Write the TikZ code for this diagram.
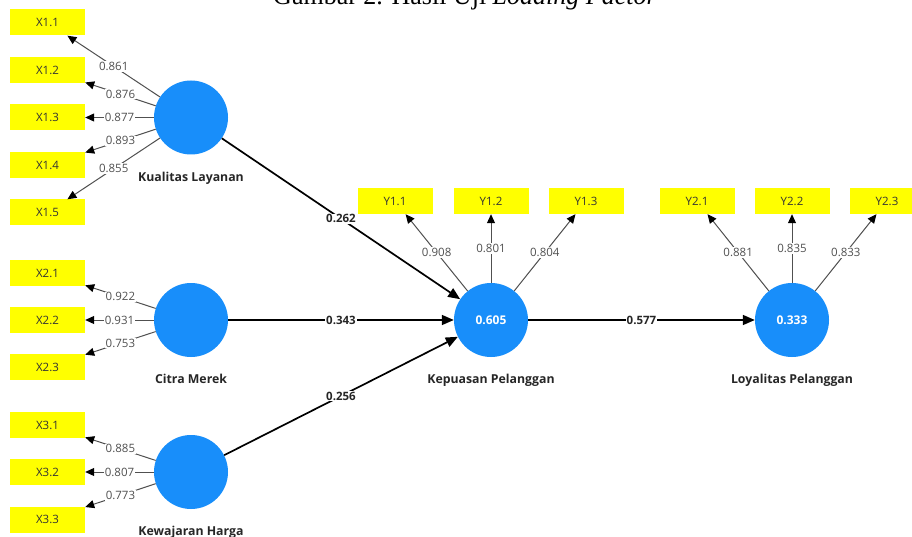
\documentclass[tikz,border=0pt]{standalone}
\usepackage{fontspec}
\setmainfont{Liberation Serif}
\setsansfont{Open Sans}
\usetikzlibrary{arrows.meta,positioning}

\definecolor{plsblue}{RGB}{24,142,250}
\definecolor{plsyellow}{RGB}{255,255,0}
\definecolor{loadgray}{RGB}{80,80,80}

\begin{document}
\begin{tikzpicture}[
	x=1pt, y=-1pt,
	indicator/.style={rectangle, fill=plsyellow, minimum width=75pt, minimum height=26pt, inner sep=0pt,
		text=black!80, font=\sffamily\fontsize{11.5}{13}\selectfont},
	construct/.style={circle, fill=plsblue, minimum size=74pt, inner sep=0pt,
		text=white, font=\sffamily\bfseries\fontsize{12}{14}\selectfont},
	cname/.style={font=\sffamily\bfseries\fontsize{12.3}{14}\selectfont, text=black!85, inner sep=1pt},
	loading/.style={draw=loadgray, line width=1pt, -{Triangle[length=9pt,width=8pt,color=black]}},
	path/.style={draw=black, line width=1.7pt, -{Triangle[length=12pt,width=10pt]}},
	lval/.style={fill=white, inner sep=1pt, text=loadgray, font=\sffamily\fontsize{11.5}{13}\selectfont},
	pval/.style={fill=white, inner sep=1pt, text=black!85, font=\sffamily\bfseries\fontsize{11.5}{13}\selectfont}
]

	% Page
	\useasboundingbox[fill=white] (0,0) rectangle (912,537);

	% Caption (cut off at the top)
	\node[anchor=base, inner sep=0pt, font=\fontsize{26}{30}\selectfont] (caption) at (465,5)
		{Gambar 2. Hasil Uji \textit{Loading Factor}};

	% Constructs
	\node[construct] (KL) at (191,117.5) {};
	\node[construct] (CM) at (191,320) {};
	\node[construct] (KH) at (191,472) {};
	\node[construct] (KP) at (491,320) {0.605};
	\node[construct] (LP) at (792,320) {0.333};

	\node[cname, below=16pt of KL] (KLname) {Kualitas Layanan};
	\node[cname, below=16pt of CM] (CMname) {Citra Merek};
	\node[cname, below=16pt of KH] (KHname) {Kewajaran Harga};
	\node[cname, below=16pt of KP] (KPname) {Kepuasan Pelanggan};
	\node[cname, below=16pt of LP] (LPname) {Loyalitas Pelanggan};

	% Indicators
	\node[indicator] (X11) at (47.5,22.5) {X1.1};
	\node[indicator] (X12) at (47.5,70) {X1.2};
	\node[indicator] (X13) at (47.5,117.5) {X1.3};
	\node[indicator] (X14) at (47.5,165) {X1.4};
	\node[indicator] (X15) at (47.5,212.5) {X1.5};

	\node[indicator] (X21) at (47.5,273) {X2.1};
	\node[indicator] (X22) at (47.5,320) {X2.2};
	\node[indicator] (X23) at (47.5,367) {X2.3};

	\node[indicator] (X31) at (47.5,425) {X3.1};
	\node[indicator] (X32) at (47.5,472) {X3.2};
	\node[indicator] (X33) at (47.5,519.5) {X3.3};

	\node[indicator] (Y11) at (395,201) {Y1.1};
	\node[indicator] (Y12) at (491,201) {Y1.2};
	\node[indicator] (Y13) at (586,201) {Y1.3};

	\node[indicator] (Y21) at (697,201) {Y2.1};
	\node[indicator] (Y22) at (792,201) {Y2.2};
	\node[indicator] (Y23) at (887,201) {Y2.3};

	% Outer loadings
	\draw[loading] (KL) -- node[lval] {0.861} (X11);
	\draw[loading] (KL) -- node[lval] {0.876} (X12);
	\draw[loading] (KL) -- node[lval] {0.877} (X13);
	\draw[loading] (KL) -- node[lval] {0.893} (X14);
	\draw[loading] (KL) -- node[lval] {0.855} (X15);

	\draw[loading] (CM) -- node[lval] {0.922} (X21);
	\draw[loading] (CM) -- node[lval] {0.931} (X22);
	\draw[loading] (CM) -- node[lval] {0.753} (X23);

	\draw[loading] (KH) -- node[lval] {0.885} (X31);
	\draw[loading] (KH) -- node[lval] {0.807} (X32);
	\draw[loading] (KH) -- node[lval] {0.773} (X33);

	\draw[loading] (KP) -- node[lval] {0.908} (Y11);
	\draw[loading] (KP) -- node[lval] {0.801} (Y12);
	\draw[loading] (KP) -- node[lval] {0.804} (Y13);

	\draw[loading] (LP) -- node[lval] {0.881} (Y21);
	\draw[loading] (LP) -- node[lval] {0.835} (Y22);
	\draw[loading] (LP) -- node[lval] {0.833} (Y23);

	% Path coefficients
	\draw[path] (KL) -- node[pval] {0.262} (KP);
	\draw[path] (CM) -- node[pval] {0.343} (KP);
	\draw[path] (KH) -- node[pval] {0.256} (KP);
	\draw[path] (KP) -- node[pval] {0.577} (LP);

\end{tikzpicture}
\end{document}
